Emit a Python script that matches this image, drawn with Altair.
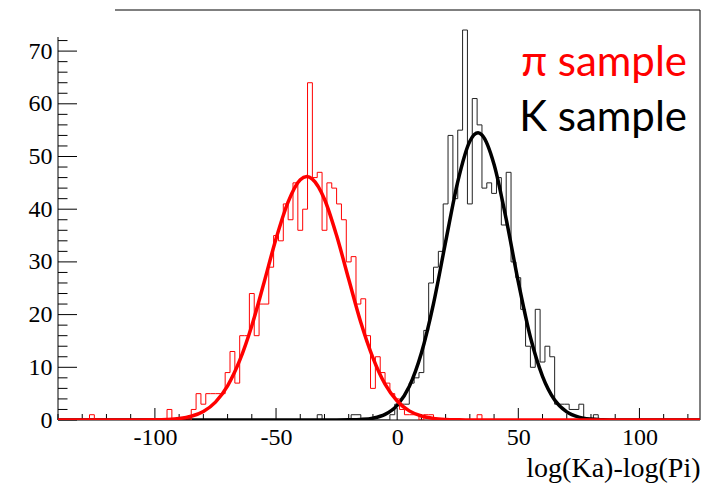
import altair as alt
import pandas as pd

# ---------------- data ----------------
BIN_START = -141
BIN_WIDTH = 2
N_BINS = 134

# pi sample histogram (bin left edge, entries)
red_bin_left = [-127, -95, -85, -83, -81, -79, -77, -75, -73, -71, -69, -67, -65, -63,
                -61, -59, -57, -55, -53, -51, -49, -47, -45, -43, -41, -39, -37, -35,
                -33, -31, -29, -27, -25, -23, -21, -19, -17, -15, -13, -11, -9, -7,
                -5, -3, -1, 1, 3, 5, 7, 11, 13, 33]
red_counts = [1, 2, 2, 5, 3, 5, 5, 5, 5, 9, 13, 7, 16, 16,
              24, 16, 22, 22, 29, 35, 34, 41, 38, 45, 36, 40, 64, 46,
              47, 36, 45, 44, 41, 38, 30, 31, 22, 23, 16, 6, 12, 9,
              7, 5, 4, 2, 1, 1, 1, 1, 1, 1]

# K sample histogram (bin left edge, entries)
black_bin_left = [-33, -19, -17, -3, -1, 1, 3, 5, 7, 9, 11, 13, 15, 17, 19, 21, 23, 25,
                  27, 29, 31, 33, 35, 37, 39, 41, 43, 45, 47, 49, 51, 53, 55, 57, 59,
                  61, 63, 65, 67, 69, 71, 73, 75, 81]
black_counts = [1, 1, 1, 1, 3, 3, 3, 7, 8, 9, 17, 26, 29, 32, 41, 54, 42, 55,
                74, 41, 61, 56, 44, 45, 43, 46, 37, 47, 30, 27, 21, 14, 10, 21, 11,
                14, 12, 3, 3, 3, 2, 2, 3, 1]

# fitted curves, points
red_fit_x = [-140, -110, -100, -95, -90, -85, -80, -75, -70, -65, -60, -55, -50, -45,
             -40, -37.3, -35, -30, -25, -20, -15, -10, -5, 0, 5, 10, 15, 20, 25, 30, 125]
red_fit_y = [0, 0, 0.03, 0.1, 0.28, 0.71, 1.62, 3.4, 6.49, 11.3, 17.9, 26.0, 34.4, 41.4,
             45.6, 46.2, 45.7, 41.9, 35.0, 26.7, 18.5, 11.8, 6.8, 3.6, 1.73, 0.76, 0.30,
             0.11, 0.04, 0, 0]
black_fit_x = [-140, -25, -20, -15, -10, -5, 0, 5, 10, 15, 20, 25, 30, 33.4, 35, 40, 45,
               50, 55, 60, 65, 70, 75, 80, 85, 90, 125]
black_fit_y = [0, 0, 0.03, 0.11, 0.36, 1.07, 2.79, 6.36, 12.7, 22.1, 33.8, 45.2, 52.9,
               54.5, 54.1, 48.5, 38.1, 26.2, 15.7, 8.3, 3.8, 1.54, 0.54, 0.17, 0.05, 0, 0]

x_label_values = [-100, -50, 0, 50, 100]
x_minor_values = [-140, -130, -120, -110, -90, -80, -70, -60, -40, -30, -20, -10,
                  10, 20, 30, 40, 60, 70, 80, 90, 110, 120]
y_label_values = [0, 10, 20, 30, 40, 50, 60, 70]
y_minor_values = [2, 4, 6, 8, 12, 14, 16, 18, 22, 24, 26, 28, 32, 34, 36, 38,
                  42, 44, 46, 48, 52, 54, 56, 58, 62, 64, 66, 68, 72]

legend_labels = ["π sample", "K sample"]
legend_colors = ["#ff0000", "#000000"]
x_title = "log(Ka)-log(Pi)"

# ---------------- layout ----------------
W, H = 642, 410
X_DOMAIN = [-140, 125]
Y_DOMAIN = [0, 77.8]
SERIF = "Liberation Serif"


def hist_frame(lefts, counts):
    edges = [BIN_START + BIN_WIDTH * i for i in range(N_BINS + 1)]
    lookup = dict(zip(lefts, counts))
    vals = [lookup.get(e, 0) for e in edges[:-1]]
    vals.append(vals[-1])
    return pd.DataFrame({"edge": edges, "count": vals})


red_df = hist_frame(red_bin_left, red_counts)
black_df = hist_frame(black_bin_left, black_counts)
red_fit_df = pd.DataFrame({"x": red_fit_x, "y": red_fit_y})
black_fit_df = pd.DataFrame({"x": black_fit_x, "y": black_fit_y})

xs = alt.Scale(domain=X_DOMAIN, nice=False, zero=False)
ys = alt.Scale(domain=Y_DOMAIN, nice=False, zero=False)

x_axis = alt.Axis(values=x_label_values, ticks=False, domain=False, grid=False,
                  labelFont=SERIF, labelFontSize=24, labelColor="black", labelPadding=5,
                  labelFlush=False, labelExpr="'' + datum.value",
                  title=x_title, titleFont=SERIF, titleFontSize=28,
                  titleFontWeight="normal", titleColor="black", titleAnchor="end",
                  titlePadding=5)
y_axis = alt.Axis(values=y_label_values, ticks=False, domain=False, grid=False,
                  labelFont=SERIF, labelFontSize=24, labelColor="black", labelPadding=6,
                  labelFlush=False, title=None)


def X(field):
    return alt.X(field, type="quantitative", scale=xs, axis=x_axis)


def Y(field):
    return alt.Y(field, type="quantitative", scale=ys, axis=y_axis)


# frame / axis lines (pure decoration, pixel positions)
frame_src = pd.DataFrame({"k": [0]})
y_axis_line = alt.Chart(frame_src).mark_rule(color="black", strokeWidth=1).encode(
    x=alt.value(0), y=alt.value(H), y2=alt.value(27))
x_axis_line = alt.Chart(frame_src).mark_rule(color="black", strokeWidth=1).encode(
    y=alt.value(H), x=alt.value(0), x2=alt.value(W))
right_line = alt.Chart(frame_src).mark_rule(color="black", strokeWidth=1).encode(
    x=alt.value(W), y=alt.value(0), y2=alt.value(H))
top_line = alt.Chart(frame_src).mark_rule(color="black", strokeWidth=1).encode(
    y=alt.value(0), x=alt.value(57), x2=alt.value(W))

y_major = alt.Chart(pd.DataFrame({"v": y_label_values})).mark_rule(
    color="black", strokeWidth=1).encode(y=Y("v"), x=alt.value(0), x2=alt.value(19))
y_minor = alt.Chart(pd.DataFrame({"v": y_minor_values})).mark_rule(
    color="black", strokeWidth=1).encode(y=Y("v"), x=alt.value(0), x2=alt.value(9.5))
x_major = alt.Chart(pd.DataFrame({"v": x_label_values})).mark_rule(
    color="black", strokeWidth=1).encode(x=X("v"), y=alt.value(H), y2=alt.value(H - 12))
x_minor = alt.Chart(pd.DataFrame({"v": x_minor_values})).mark_rule(
    color="black", strokeWidth=1).encode(x=X("v"), y=alt.value(H), y2=alt.value(H - 6))

black_hist = alt.Chart(black_df).mark_line(
    interpolate="step-after", color="#222222", strokeWidth=1, clip=True).encode(
    x=X("edge"), y=Y("count"))
black_fit = alt.Chart(black_fit_df).mark_line(
    interpolate="monotone", color="black", strokeWidth=3.5, clip=True).encode(
    x=X("x"), y=Y("y"))
red_hist = alt.Chart(red_df).mark_line(
    interpolate="step-after", color="#ff0000", strokeWidth=1, clip=True).encode(
    x=X("edge"), y=Y("count"))
red_fit = alt.Chart(red_fit_df).mark_line(
    interpolate="monotone", color="#ff0000", strokeWidth=3.5, clip=True).encode(
    x=X("x"), y=Y("y"))

legend_pi = alt.Chart(pd.DataFrame({"label": [legend_labels[0]]})).mark_text(
    font="Lato", fontSize=42, align="right", baseline="alphabetic",
    color=legend_colors[0]).encode(text="label:N", x=alt.value(629), y=alt.value(66))
legend_k = alt.Chart(pd.DataFrame({"label": [legend_labels[1]]})).mark_text(
    font="Lato", fontSize=42, align="right", baseline="alphabetic",
    color=legend_colors[1]).encode(text="label:N", x=alt.value(629), y=alt.value(121))

chart = alt.layer(
    y_axis_line, x_axis_line, right_line, top_line,
    y_major, y_minor, x_major, x_minor,
    black_hist, black_fit, red_hist, red_fit, legend_pi, legend_k
).properties(
    width=W, height=H,
    padding={"left": 58, "top": 10, "right": 19, "bottom": 63},
    autosize=alt.AutoSizeParams(type="none"),
    background="white",
).configure_view(stroke=None)

chart.save("out.html", embed_options={"renderer": "svg", "actions": False})
